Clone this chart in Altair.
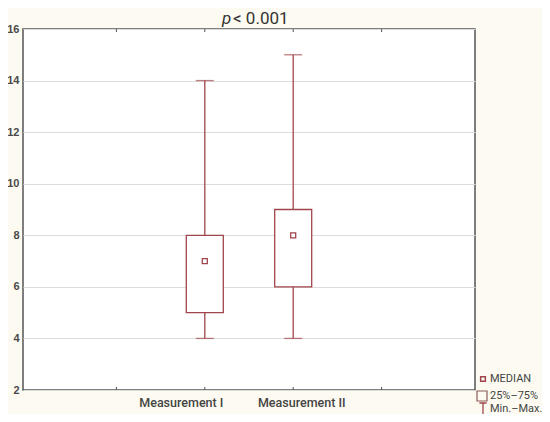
import altair as alt
import pandas as pd

# ---- data ----
categories = ["Measurement I", "Measurement II"]
category_pos = [2, 3]
minimum = [4, 4]
q25 = [5, 6]
median = [7, 8]
q75 = [8, 9]
maximum = [14, 15]
y_ticks = [2, 4, 6, 8, 10, 12, 14, 16]
x_ticks = [1, 2, 3, 4]
legend_labels = ["MEDIAN", "25%–75%", "Min.–Max."]
title_parts = ["p", "< 0.001"]

df = pd.DataFrame(dict(cat=categories, pos=category_pos, mn=minimum, q1=q25,
                       med=median, q3=q75, mx=maximum))
ticks_df = pd.DataFrame({"t": x_ticks})
one = pd.DataFrame({"a": [0]})

W, H = 452, 361
RED = "#a0454b"
FONT = "Roboto"

xs = alt.Scale(domain=[0, 5], nice=False, zero=False)
ys = alt.Scale(domain=[2, 16], nice=False, zero=False)

label_expr = " : ".join(
    f"datum.value == {p} ? '{c}'" for p, c in zip(category_pos, categories)
) + " : ''"

xaxis = alt.Axis(values=x_ticks, labelExpr=label_expr, ticks=False, domain=False,
                 grid=False, title=None, labelFont=FONT, labelFontSize=12.5,
                 labelFontWeight=500, labelColor="#444", labelPadding=6,
                 labelOffset={"condition": {"test": f"datum.value == {category_pos[0]}",
                                            "value": -24}, "value": 8})
yaxis = alt.Axis(values=y_ticks, grid=True, gridColor="#dcdcdc", gridWidth=1,
                 ticks=False, domain=False, title=None,
                 labelFont="Liberation Sans", labelFontSize=11, labelFontWeight="bold",
                 labelColor="#4a4a4a", labelPadding=4)

X = alt.X("pos:Q", scale=xs, axis=xaxis)

def Yf(field):
    return alt.Y(f"{field}:Q", scale=ys, axis=yaxis)

base = alt.Chart(df)

whisker = base.mark_rule(color=RED, strokeWidth=1.3).encode(x=X, y=Yf("mn"), y2="mx:Q")
cap_hi = base.mark_tick(color=RED, size=18, thickness=1.3, orient="horizontal").encode(x=X, y=Yf("mx"))
cap_lo = base.mark_tick(color=RED, size=18, thickness=1.3, orient="horizontal").encode(x=X, y=Yf("mn"))
box = base.mark_bar(size=37, fill="white", stroke=RED, strokeWidth=1.3).encode(
    x=X, y=Yf("q1"), y2="q3:Q")
med = base.mark_point(shape="square", size=25, filled=True, fill="white",
                      stroke=RED, strokeWidth=1.3, opacity=1).encode(x=X, y=Yf("med"))

tick_bot = alt.Chart(ticks_df).mark_rule(color="#555", strokeWidth=1).encode(
    x=alt.X("t:Q", scale=xs, axis=xaxis), y=alt.value(H), y2=alt.value(H - 3))
tick_top = alt.Chart(ticks_df).mark_rule(color="#555", strokeWidth=1).encode(
    x=alt.X("t:Q", scale=xs, axis=xaxis), y=alt.value(0), y2=alt.value(3))

# title
t_p = alt.Chart(one).mark_text(text=title_parts[0], font=FONT, fontSize=17, fontStyle="italic",
                               color="#333", align="left", baseline="alphabetic").encode(
    x=alt.value(199), y=alt.value(-5))
t_rest = alt.Chart(one).mark_text(text=title_parts[1], font=FONT, fontSize=17,
                                  color="#333", align="left", baseline="alphabetic").encode(
    x=alt.value(210), y=alt.value(-5))

# legend
leg_rows = [350, 367, 380]
leg_txt = [
    alt.Chart(one).mark_text(text=lab, font=FONT, fontSize=11, color="#444",
                             align="left", baseline="middle").encode(
        x=alt.value(467), y=alt.value(yy))
    for lab, yy in zip(legend_labels, leg_rows)
]
leg_med = alt.Chart(one).mark_point(shape="square", size=22, filled=False, stroke=RED,
                                    strokeWidth=1.5, opacity=1).encode(
    x=alt.value(460), y=alt.value(leg_rows[0]))
leg_box = alt.Chart(one).mark_point(shape="square", size=100, filled=False, stroke="#8a5a5a",
                                    strokeWidth=1.2, opacity=1).encode(
    x=alt.value(459), y=alt.value(leg_rows[1]))
leg_ibeam = alt.Chart(one).mark_point(shape="M-0.6,-1H0.6M0,-1V1M-0.6,1H0.6", size=144,
                                      filled=False, stroke=RED, strokeWidth=1.3, opacity=1).encode(
    x=alt.value(460), y=alt.value(leg_rows[2]))

chart = alt.layer(
    whisker, cap_hi, cap_lo, box, med, tick_bot, tick_top, t_p, t_rest,
    leg_med, leg_box, leg_ibeam, *leg_txt
).properties(
    width=W, height=H,
    background="#fdfbf1",
    padding={"left": 15, "top": 21, "right": 67, "bottom": 24},
    autosize=alt.AutoSizeParams(type="none"),
).configure_view(stroke="#555", strokeWidth=1.5, fill="white")

chart.save("out.html", embed_options={"renderer": "svg", "actions": False})
